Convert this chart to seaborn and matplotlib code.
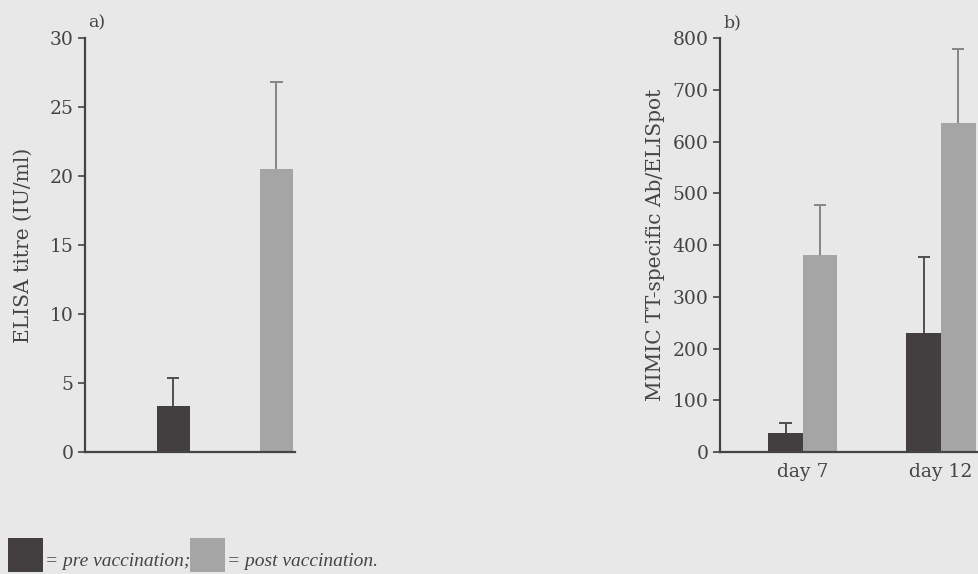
import numpy as np
import pandas as pd
import seaborn as sns
import matplotlib
matplotlib.use("Agg")
import matplotlib.pyplot as plt
from matplotlib.patches import Rectangle

# Panel a: ELISA titre
elisa_groups = ["pre", "post"]
elisa_mean = [3.3, 20.5]
elisa_upper = [5.4, 26.8]

# Panel b: MIMIC TT-specific Ab/ELISpot
days = ["day 7", "day 7", "day 12", "day 12"]
phase = ["pre", "post", "pre", "post"]
mimic_mean = [37, 380, 230, 635]
mimic_upper = [57, 478, 377, 778]

legend_labels = ["= pre vaccination;", "= post vaccination."]

BG = "#e8e8e8"
DARK = "#433f40"
LIGHT = "#a5a5a6"
INK = "#444444"
palette = {"pre": DARK, "post": LIGHT}
err_col = {"pre": "#4f4f4f", "post": "#858585"}

sns.set_theme(style="white")
plt.rcParams["font.family"] = ["DejaVu Serif"]
plt.rcParams["axes.facecolor"] = BG
plt.rcParams["figure.facecolor"] = BG

fig = plt.figure(figsize=(9.79, 5.74), dpi=100)
ax_a = fig.add_axes([0.0868, 0.2125, 0.2145, 0.7213])
ax_b = fig.add_axes([0.7354, 0.2125, 0.2646, 0.7213])

df_a = pd.DataFrame({"group": elisa_groups, "value": elisa_mean, "upper": elisa_upper})
sns.barplot(data=df_a, x="group", y="value", hue="group", palette=palette,
            width=0.32, ax=ax_a, legend=False, errorbar=None, saturation=1,
            linewidth=0, edgecolor="none")

df_b = pd.DataFrame({"day": days, "phase": phase, "value": mimic_mean, "upper": mimic_upper})
sns.barplot(data=df_b, x="day", y="value", hue="phase", palette=palette,
            width=0.5, ax=ax_b, legend=False, errorbar=None, saturation=1,
            linewidth=0, edgecolor="none")


# upward-only error bars with a cap on top
def add_err(ax, df, key, cap):
    bars = [p for p in ax.patches if p.get_height() > 0]
    for p in bars:
        x = p.get_x() + p.get_width() / 2
        h = p.get_height()
        row = df.iloc[(df["value"] - h).abs().argmin()]
        c = err_col[row[key]]
        ax.vlines(x, h, row["upper"], color=c, linewidth=1.4, zorder=1)
        ax.hlines(row["upper"], x - cap, x + cap, color=c, linewidth=1.4, zorder=1)
        p.set_zorder(2)


add_err(ax_a, df_a, "group", 0.06)
add_err(ax_b, df_b, "phase", 0.045)

for ax in (ax_a, ax_b):
    for s in ("top", "right"):
        ax.spines[s].set_visible(False)
    for s in ("left", "bottom"):
        ax.spines[s].set_color(INK)
        ax.spines[s].set_linewidth(1.6)
    ax.tick_params(axis="y", direction="out", length=5, width=1.2, color=INK,
                   labelcolor=INK, labelsize=13.5, pad=3, left=True)
    ax.tick_params(axis="x", length=0, labelcolor=INK, labelsize=13.5, pad=8)
    ax.set_xlabel("")

ax_a.set_ylim(0, 30)
ax_a.set_yticks(np.arange(0, 31, 5))
ax_a.set_xlim(-0.854, 1.18)
ax_a.set_xticks([])
ax_a.set_ylabel("ELISA titre (IU/ml)", color=INK, fontsize=14.5, labelpad=12)
ax_a.text(0.015, 1.025, "a)", transform=ax_a.transAxes, color=INK, fontsize=12.5)

ax_b.set_ylim(0, 800)
ax_b.set_yticks(np.arange(0, 801, 100))
ax_b.set_xlim(-0.60, 1.275)
ax_b.set_ylabel("MIMIC TT-specific Ab/ELISpot", color=INK, fontsize=14.5, labelpad=6)
ax_b.text(0.015, 1.025, "b)", transform=ax_b.transAxes, color=INK, fontsize=12.5)

# legend strip at the bottom
for (x0, col, lab) in [(8, DARK, legend_labels[0]), (190, LIGHT, legend_labels[1])]:
    fig.patches.append(Rectangle((x0 / 979, 1 - 572 / 574), 35 / 979, 34 / 574,
                                 transform=fig.transFigure, facecolor=col,
                                 edgecolor="none"))
    fig.text((x0 + 37) / 979, 1 - 566 / 574, lab, style="italic", color=INK,
             family=["Liberation Serif"], fontsize=14, va="baseline", ha="left")

fig.savefig("out.png", dpi=100, facecolor=BG)
